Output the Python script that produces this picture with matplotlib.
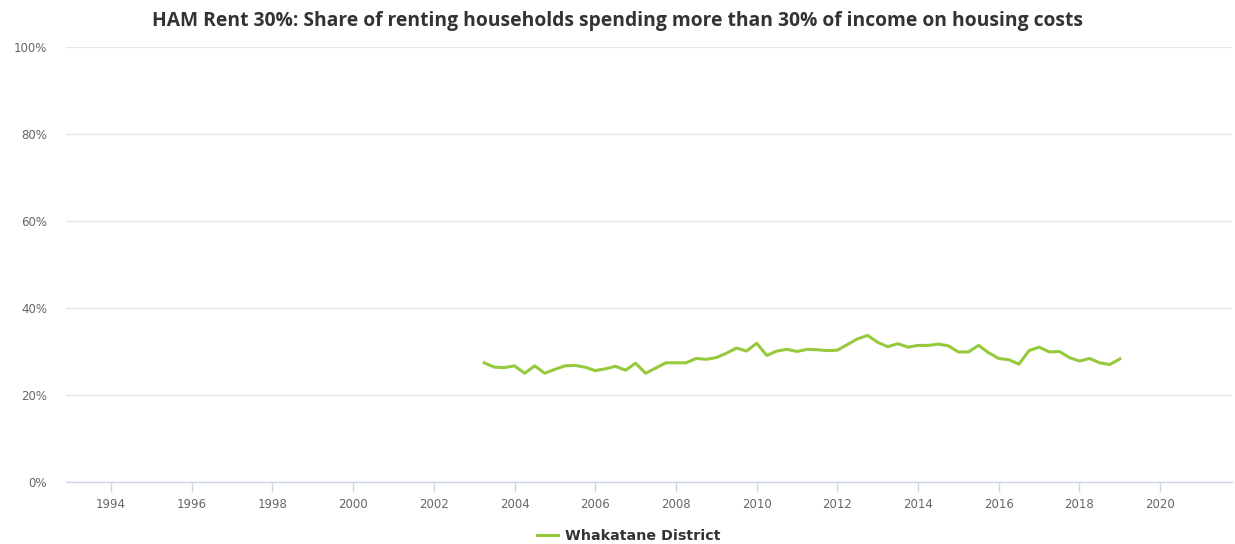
import numpy as np
import matplotlib
matplotlib.use('Agg')
import matplotlib.pyplot as plt
from matplotlib.ticker import FuncFormatter

# quarterly values, 2003 Q1 .. 2019 Q4 (plotted at 2003.25 .. 2019.0)
start_year = 2003.25
share = [27.4, 26.4, 26.3, 26.7, 25.0, 26.7, 25.0, 25.9, 26.7, 26.8,
         26.4, 25.6, 26.0, 26.6, 25.7, 27.3, 25.0, 26.2, 27.4, 27.4,
         27.4, 28.4, 28.2, 28.6, 29.6, 30.8, 30.1, 31.9, 29.1, 30.1,
         30.5, 30.0, 30.5, 30.4, 30.2, 30.3, 31.6, 32.9, 33.7, 32.1,
         31.1, 31.8, 31.0, 31.4, 31.4, 31.7, 31.3, 29.9, 29.9, 31.4,
         29.7, 28.4, 28.1, 27.1, 30.2, 31.0, 29.9, 30.0, 28.6, 27.8,
         28.4, 27.4, 27.0, 28.3]
years = start_year + 0.25 * np.arange(len(share))
series_name = "Whakatane District"
title_text = "HAM Rent 30%: Share of renting households spending more than 30% of income on housing costs"
xticks = list(range(1994, 2021, 2))
yticks = [0, 20, 40, 60, 80, 100]

fig = plt.figure(figsize=(12.35, 5.44), dpi=100)
ax = fig.add_axes([0.0534, 0.114, 0.9442, 0.7996])

ax.plot(years, share, color='#97c93d', lw=2.2, label=series_name, solid_joinstyle='round')

ax.set_xlim(1992.885, 2021.78)
ax.set_ylim(0, 100)
ax.set_xticks(xticks)
ax.set_yticks(yticks)
ax.yaxis.set_major_formatter(FuncFormatter(lambda v, p: '%d%%' % v))

ax.grid(axis='y', color='#e6e6e6', lw=1)
ax.set_axisbelow(True)
for s in ['top', 'right', 'left']:
    ax.spines[s].set_visible(False)
ax.spines['bottom'].set_color('#ccd6eb')
ax.spines['bottom'].set_linewidth(1)

ax.tick_params(axis='x', direction='out', length=7.2, width=1, color='#ccd6eb',
               labelcolor='#666666', labelsize=8.5, pad=4)
ax.tick_params(axis='y', length=0, labelcolor='#666666', labelsize=8.5, pad=13.5)

fig.text(0.5, 0.962, title_text, ha='center', va='center',
         fontsize=13.9, fontweight='bold', color='#333333', family='Open Sans')

leg = fig.legend(loc='center', bbox_to_anchor=(0.509, 0.015), frameon=False,
                 handlelength=1.5, handletextpad=0.5,
                 prop={'weight': 'bold', 'size': 10.3})
for t in leg.get_texts():
    t.set_color('#333333')

fig.savefig('out.png', dpi=100)
